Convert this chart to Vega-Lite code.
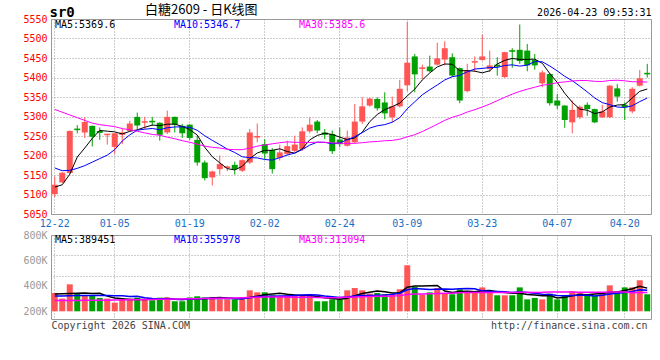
{
"$schema": "https://vega.github.io/schema/vega-lite/v6.json",
"padding": {"left": 0, "top": 3, "right": 0, "bottom": 0},
"background": "#ffffff",
"bounds": "flush",
"spacing": 21,
"datasets": {"k": [
{"d":"12-22","o":5101,"h":5146,"l":5093,"c":5125,"v":344000,"ma5":5119,"ma10":5168,"ma30":5318,"vm5":336000,"vm10":320000,"vm30":284000},
{"d":"12-23","o":5131,"h":5157,"l":5130,"c":5156,"v":300000,"ma5":5125,"ma10":5161,"ma30":5311,"vm5":338000,"vm10":321000,"vm30":284000},
{"d":"12-24","o":5155,"h":5264,"l":5154,"c":5263,"v":412000,"ma5":5152,"ma10":5162,"ma30":5304,"vm5":340000,"vm10":322000,"vm30":285000},
{"d":"12-25","o":5269,"h":5278,"l":5257,"c":5265,"v":339000,"ma5":5196,"ma10":5167,"ma30":5297,"vm5":342000,"vm10":324000,"vm30":285000},
{"d":"12-26","o":5259,"h":5298,"l":5245,"c":5286,"v":326000,"ma5":5219.2,"ma10":5174,"ma30":5290,"vm5":344200,"vm10":325000,"vm30":286000},
{"d":"12-29","o":5276,"h":5277,"l":5223,"c":5248,"v":326000,"ma5":5243.8,"ma10":5183,"ma30":5283,"vm5":340600,"vm10":325000,"vm30":286000},
{"d":"12-30","o":5263,"h":5272,"l":5240,"c":5258,"v":305000,"ma5":5264.2,"ma10":5192,"ma30":5279,"vm5":341600,"vm10":325000,"vm30":287000},
{"d":"12-31","o":5252,"h":5255,"l":5228,"c":5256,"v":300000,"ma5":5262.4,"ma10":5201,"ma30":5276.5,"vm5":319200,"vm10":324000,"vm30":287000},
{"d":"01-05","o":5222,"h":5257,"l":5204,"c":5257,"v":268000,"ma5":5260.6,"ma10":5215,"ma30":5274,"vm5":305000,"vm10":323000,"vm30":288000},
{"d":"01-06","o":5253,"h":5268,"l":5229,"c":5259,"v":294000,"ma5":5255.2,"ma10":5237.2,"ma30":5269,"vm5":298600,"vm10":321400,"vm30":289000},
{"d":"01-07","o":5263,"h":5289,"l":5262,"c":5282,"v":300000,"ma5":5262,"ma10":5252.9,"ma30":5266,"vm5":293400,"vm10":317000,"vm30":290000},
{"d":"01-08","o":5299,"h":5310,"l":5268,"c":5277,"v":307000,"ma5":5265.8,"ma10":5265,"ma30":5262,"vm5":293800,"vm10":317700,"vm30":291000},
{"d":"01-09","o":5284,"h":5299,"l":5268,"c":5288,"v":294000,"ma5":5272.4,"ma10":5267.4,"ma30":5258,"vm5":292600,"vm10":305900,"vm30":292000},
{"d":"01-12","o":5289,"h":5299,"l":5276,"c":5285,"v":287000,"ma5":5278,"ma10":5269.3,"ma30":5254,"vm5":296400,"vm10":300700,"vm30":293000},
{"d":"01-13","o":5284,"h":5285,"l":5238,"c":5253,"v":307000,"ma5":5276.8,"ma10":5266,"ma30":5252,"vm5":299000,"vm10":298800,"vm30":294000},
{"d":"01-14","o":5259,"h":5315,"l":5255,"c":5299,"v":309000,"ma5":5280.2,"ma10":5271.1,"ma30":5247,"vm5":300800,"vm10":297100,"vm30":295000},
{"d":"01-15","o":5299,"h":5300,"l":5259,"c":5279,"v":279000,"ma5":5280.6,"ma10":5273.2,"ma30":5243,"vm5":295200,"vm10":294500,"vm30":296000},
{"d":"01-16","o":5276,"h":5281,"l":5245,"c":5257,"v":279000,"ma5":5274.6,"ma10":5273.5,"ma30":5238,"vm5":292200,"vm10":292400,"vm30":297000},
{"d":"01-19","o":5279,"h":5280,"l":5240,"c":5245,"v":309000,"ma5":5266.6,"ma10":5272.3,"ma30":5234,"vm5":296600,"vm10":296500,"vm30":298000},
{"d":"01-20","o":5240,"h":5251,"l":5174,"c":5182,"v":318000,"ma5":5252.4,"ma10":5264.6,"ma30":5229,"vm5":298800,"vm10":298900,"vm30":299000},
{"d":"01-21","o":5182,"h":5187,"l":5136,"c":5142,"v":309000,"ma5":5221,"ma10":5250.6,"ma30":5224,"vm5":298800,"vm10":299800,"vm30":300000},
{"d":"01-22","o":5144,"h":5161,"l":5123,"c":5159,"v":313000,"ma5":5197,"ma10":5238.8,"ma30":5221,"vm5":305600,"vm10":300400,"vm30":301000},
{"d":"01-23","o":5165,"h":5200,"l":5151,"c":5178,"v":294000,"ma5":5181.2,"ma10":5227.9,"ma30":5219,"vm5":308600,"vm10":300400,"vm30":302000},
{"d":"01-26","o":5168,"h":5174,"l":5160,"c":5172,"v":294000,"ma5":5166.4,"ma10":5216.5,"ma30":5216,"vm5":305600,"vm10":301100,"vm30":303000},
{"d":"01-27","o":5176,"h":5184,"l":5151,"c":5165,"v":294000,"ma5":5163,"ma10":5207.7,"ma30":5215,"vm5":300800,"vm10":299800,"vm30":305000},
{"d":"01-28","o":5161,"h":5190,"l":5158,"c":5188,"v":294000,"ma5":5172.2,"ma10":5196.6,"ma30":5215,"vm5":297800,"vm10":298300,"vm30":306000},
{"d":"01-29","o":5182,"h":5268,"l":5178,"c":5259,"v":365000,"ma5":5192.2,"ma10":5194.6,"ma30":5219,"vm5":308200,"vm10":306900,"vm30":308000},
{"d":"01-30","o":5246,"h":5282,"l":5234,"c":5250,"v":349000,"ma5":5206.4,"ma10":5193.8,"ma30":5224,"vm5":319200,"vm10":313900,"vm30":310000},
{"d":"02-02","o":5229,"h":5242,"l":5191,"c":5205,"v":349000,"ma5":5213.2,"ma10":5189.8,"ma30":5227,"vm5":330200,"vm10":317900,"vm30":312000},
{"d":"02-03","o":5214,"h":5219,"l":5154,"c":5165,"v":326000,"ma5":5213.2,"ma10":5188.1,"ma30":5230,"vm5":336600,"vm10":318700,"vm30":313000},
{"d":"02-04","o":5194,"h":5228,"l":5187,"c":5208,"v":318000,"ma5":5217.2,"ma10":5194.7,"ma30":5232.7,"vm5":341400,"vm10":319600,"vm30":312100},
{"d":"02-05","o":5204,"h":5238,"l":5200,"c":5224,"v":326000,"ma5":5210.2,"ma10":5201.2,"ma30":5235,"vm5":333600,"vm10":320900,"vm30":313000},
{"d":"02-06","o":5212,"h":5251,"l":5208,"c":5228,"v":326000,"ma5":5206,"ma10":5206.2,"ma30":5233.8,"vm5":329000,"vm10":324100,"vm30":310100},
{"d":"02-09","o":5217,"h":5272,"l":5212,"c":5262,"v":326000,"ma5":5217.4,"ma10":5215.3,"ma30":5233.7,"vm5":324400,"vm10":327300,"vm30":309700},
{"d":"02-10","o":5262,"h":5298,"l":5257,"c":5279,"v":326000,"ma5":5240.2,"ma10":5226.7,"ma30":5233.5,"vm5":324400,"vm10":330500,"vm30":309700},
{"d":"02-11","o":5287,"h":5291,"l":5257,"c":5264,"v":279000,"ma5":5251.4,"ma10":5234.3,"ma30":5234,"vm5":316600,"vm10":329000,"vm30":308100},
{"d":"02-12","o":5259,"h":5268,"l":5242,"c":5253,"v":279000,"ma5":5257.2,"ma10":5233.7,"ma30":5233.8,"vm5":307200,"vm10":320400,"vm30":307300},
{"d":"02-13","o":5255,"h":5264,"l":5204,"c":5211,"v":294000,"ma5":5253.8,"ma10":5229.9,"ma30":5232.4,"vm5":300800,"vm10":314900,"vm30":307100},
{"d":"02-24","o":5241,"h":5272,"l":5221,"c":5229,"v":294000,"ma5":5247.2,"ma10":5232.3,"ma30":5231.5,"vm5":294400,"vm10":309400,"vm30":307900},
{"d":"02-25","o":5225,"h":5264,"l":5223,"c":5246,"v":365000,"ma5":5240.6,"ma10":5240.4,"ma30":5231,"vm5":302200,"vm10":313300,"vm30":310300},
{"d":"02-26","o":5234,"h":5332,"l":5231,"c":5287,"v":383000,"ma5":5245.2,"ma10":5248.3,"ma30":5231.2,"vm5":323000,"vm10":319800,"vm30":313100},
{"d":"02-27","o":5287,"h":5349,"l":5281,"c":5326,"v":365000,"ma5":5259.8,"ma10":5258.5,"ma30":5232.8,"vm5":340200,"vm10":323700,"vm30":315000},
{"d":"03-02","o":5328,"h":5348,"l":5325,"c":5346,"v":339000,"ma5":5286.8,"ma10":5270.3,"ma30":5234.8,"vm5":349200,"vm10":325000,"vm30":316500},
{"d":"03-03","o":5345,"h":5349,"l":5315,"c":5321,"v":344000,"ma5":5305.2,"ma10":5276.2,"ma30":5236,"vm5":359200,"vm10":326800,"vm30":318400},
{"d":"03-04","o":5336,"h":5362,"l":5293,"c":5308,"v":334000,"ma5":5317.6,"ma10":5279.1,"ma30":5237.8,"vm5":353000,"vm10":327600,"vm30":319300},
{"d":"03-05","o":5298,"h":5351,"l":5285,"c":5326,"v":334000,"ma5":5325.4,"ma10":5285.3,"ma30":5238.7,"vm5":343200,"vm10":333100,"vm30":320100},
{"d":"03-06","o":5326,"h":5394,"l":5323,"c":5371,"v":373000,"ma5":5334.4,"ma10":5297.1,"ma30":5241.8,"vm5":344800,"vm10":342500,"vm30":323300},
{"d":"03-09","o":5380,"h":5543,"l":5365,"c":5438,"v":562000,"ma5":5352.8,"ma10":5319.8,"ma30":5247.8,"vm5":389400,"vm10":369300,"vm30":332700},
{"d":"03-10","o":5454,"h":5460,"l":5362,"c":5408,"v":391000,"ma5":5370.2,"ma10":5337.7,"ma30":5253.3,"vm5":398800,"vm10":379000,"vm30":335400},
{"d":"03-11","o":5422,"h":5433,"l":5396,"c":5426,"v":331000,"ma5":5393.6,"ma10":5355.6,"ma30":5261.4,"vm5":398200,"vm10":375600,"vm30":335900},
{"d":"03-12","o":5428,"h":5456,"l":5414,"c":5416,"v":349000,"ma5":5411.6,"ma10":5368.5,"ma30":5270.5,"vm5":401200,"vm10":372200,"vm30":337200},
{"d":"03-13","o":5433,"h":5489,"l":5431,"c":5449,"v":383000,"ma5":5427.2,"ma10":5380.8,"ma30":5280.2,"vm5":403200,"vm10":374000,"vm30":339500},
{"d":"03-16","o":5446,"h":5493,"l":5431,"c":5475,"v":344000,"ma5":5434.6,"ma10":5393.7,"ma30":5290.1,"vm5":359600,"vm10":374500,"vm30":341200},
{"d":"03-17","o":5452,"h":5462,"l":5401,"c":5405,"v":334000,"ma5":5434,"ma10":5402.1,"ma30":5297.9,"vm5":348200,"vm10":373500,"vm30":342500},
{"d":"03-18","o":5424,"h":5426,"l":5334,"c":5341,"v":373000,"ma5":5417.2,"ma10":5405.4,"ma30":5303.7,"vm5":356600,"vm10":377400,"vm30":345200},
{"d":"03-19","o":5365,"h":5435,"l":5362,"c":5418,"v":357000,"ma5":5417.6,"ma10":5414.6,"ma30":5311.4,"vm5":358200,"vm10":379700,"vm30":347300},
{"d":"03-20","o":5438,"h":5454,"l":5414,"c":5442,"v":357000,"ma5":5416.2,"ma10":5421.7,"ma30":5317.5,"vm5":353000,"vm10":378100,"vm30":347000},
{"d":"03-23","o":5445,"h":5510,"l":5443,"c":5454,"v":388000,"ma5":5412,"ma10":5423.3,"ma30":5324.3,"vm5":361800,"vm10":360700,"vm30":348300},
{"d":"03-24","o":5422,"h":5469,"l":5414,"c":5431,"v":344000,"ma5":5417.2,"ma10":5425.6,"ma30":5331.9,"vm5":363800,"vm10":356000,"vm30":348100},
{"d":"03-25","o":5433,"h":5452,"l":5405,"c":5428,"v":326000,"ma5":5434.6,"ma10":5425.9,"ma30":5340.6,"vm5":354400,"vm10":355500,"vm30":348100},
{"d":"03-26","o":5401,"h":5466,"l":5399,"c":5465,"v":326000,"ma5":5444,"ma10":5430.8,"ma30":5349.2,"vm5":348200,"vm10":353200,"vm30":348400},
{"d":"03-27","o":5470,"h":5475,"l":5425,"c":5466,"v":326000,"ma5":5448.8,"ma10":5432.5,"ma30":5357.3,"vm5":342000,"vm10":347500,"vm30":348400},
{"d":"03-30","o":5471,"h":5536,"l":5435,"c":5442,"v":388000,"ma5":5446.4,"ma10":5429.2,"ma30":5364.4,"vm5":342000,"vm10":351900,"vm30":350500},
{"d":"03-31","o":5469,"h":5486,"l":5416,"c":5431,"v":294000,"ma5":5446.4,"ma10":5431.8,"ma30":5370,"vm5":332000,"vm10":347900,"vm30":349400},
{"d":"04-01","o":5445,"h":5460,"l":5420,"c":5431,"v":305000,"ma5":5447,"ma10":5440.8,"ma30":5375.1,"vm5":327800,"vm10":341100,"vm30":348700},
{"d":"04-02","o":5385,"h":5418,"l":5375,"c":5413,"v":294000,"ma5":5436.6,"ma10":5440.3,"ma30":5380.1,"vm5":321400,"vm10":334800,"vm30":349200},
{"d":"04-03","o":5409,"h":5412,"l":5328,"c":5334,"v":339000,"ma5":5410.2,"ma10":5429.5,"ma30":5382.8,"vm5":324000,"vm10":333000,"vm30":351200},
{"d":"04-07","o":5341,"h":5358,"l":5319,"c":5328,"v":294000,"ma5":5387.4,"ma10":5416.9,"ma30":5386.7,"vm5":305200,"vm10":323600,"vm30":351200},
{"d":"04-08","o":5328,"h":5329,"l":5271,"c":5291,"v":323000,"ma5":5359.4,"ma10":5402.9,"ma30":5388.7,"vm5":311000,"vm10":321500,"vm30":352200},
{"d":"04-09","o":5285,"h":5341,"l":5257,"c":5317,"v":357000,"ma5":5336.6,"ma10":5391.8,"ma30":5391.1,"vm5":321400,"vm10":324600,"vm30":351900},
{"d":"04-10","o":5298,"h":5328,"l":5294,"c":5325,"v":349000,"ma5":5319,"ma10":5377.8,"ma30":5392.4,"vm5":332400,"vm10":326900,"vm30":350800},
{"d":"04-13","o":5330,"h":5336,"l":5302,"c":5319,"v":326000,"ma5":5316,"ma10":5363.1,"ma30":5392.1,"vm5":329800,"vm10":326900,"vm30":349500},
{"d":"04-14","o":5319,"h":5320,"l":5283,"c":5285,"v":323000,"ma5":5307.4,"ma10":5347.4,"ma30":5390.1,"vm5":335600,"vm10":320400,"vm30":348900},
{"d":"04-15","o":5298,"h":5330,"l":5296,"c":5313,"v":349000,"ma5":5311.8,"ma10":5335.6,"ma30":5389.8,"vm5":340800,"vm10":325900,"vm30":349100},
{"d":"04-16","o":5298,"h":5381,"l":5296,"c":5379,"v":404000,"ma5":5324.2,"ma10":5330.4,"ma30":5392.2,"vm5":350200,"vm10":335800,"vm30":351400},
{"d":"04-17","o":5372,"h":5383,"l":5338,"c":5351,"v":357000,"ma5":5329.4,"ma10":5324.2,"ma30":5393,"vm5":351800,"vm10":342100,"vm30":352200},
{"d":"04-20","o":5330,"h":5336,"l":5291,"c":5324,"v":388000,"ma5":5330.4,"ma10":5323.2,"ma30":5391.5,"vm5":364200,"vm10":347000,"vm30":352700},
{"d":"04-21","o":5313,"h":5375,"l":5308,"c":5371,"v":388000,"ma5":5347.6,"ma10":5327.5,"ma30":5389.2,"vm5":377200,"vm10":356400,"vm30":346900},
{"d":"04-22","o":5379,"h":5419,"l":5377,"c":5398,"v":444000,"ma5":5364.6,"ma10":5338.2,"ma30":5388.9,"vm5":396200,"vm10":368500,"vm30":348700},
{"d":"04-23","o":5412,"h":5435,"l":5400,"c":5408,"v":334000,"ma5":5370.4,"ma10":5347.3,"ma30":5388.3,"vm5":382200,"vm10":366200,"vm30":348800}
]},
"data": {"name": "k"},
"resolve": {"scale": {"color": "independent"}, "legend": {"color": "independent"}},
"config": {
  "view": {"stroke": "#999999", "strokeWidth": 1},
  "axis": {"labelFont": "DejaVu Sans Mono", "labelFontSize": 10, "ticks": false, "domain": false, "gridColor": "#9a9a9a", "gridDash": [1, 2], "gridWidth": 1, "gridOpacity": 1, "labelOverlap": false, "labelFlush": false, "labelBound": false},
  "legend": {"labelFont": "DejaVu Sans Mono", "labelFontSize": 10}
},
"vconcat": [
  {
    "width": 600,
    "height": 195,
    "title": {"text": "白糖2609 - 日K线图", "anchor": "start", "frame": "group", "dx": 94, "offset": -12, "fontSize": 13, "fontWeight": "normal", "color": "#000000", "font": "Noto Sans CJK SC"},
    "resolve": {"axis": {"x": "independent", "y": "independent"}},
    "layer": [
      {
        "mark": {"type": "rule", "strokeWidth": 1},
        "encoding": {
          "x": {"field": "d", "type": "ordinal", "sort": null, "scale": {"paddingInner": 0.2, "paddingOuter": 0.1},
                "axis": {"orient": "bottom", "values": ["12-22","01-05","01-19","02-02","02-24","03-09","03-23","04-07","04-20"], "grid": true, "labelColor": "#1a6fc4", "labelPadding": 4, "labelAngle": 0, "title": null, "minExtent": 21}},
          "y": {"field": "l", "type": "quantitative", "scale": {"domain": [5050, 5550], "nice": false, "zero": false},
                "axis": {"orient": "left", "values": [5050,5100,5150,5200,5250,5300,5350,5400,5450,5500,5550], "format": "d", "grid": true, "labelColor": "#ff0000", "labelPadding": 4, "minExtent": 50,
                         "title": "sr0", "titleAngle": 0, "titleX": -2, "titleY": -3, "titleAlign": "left", "titleBaseline": "alphabetic", "titleFont": "DejaVu Sans Mono", "titleFontSize": 14, "titleFontWeight": "bold", "titleColor": "#000000"}},
          "y2": {"field": "h"},
          "color": {"condition": {"test": "datum.c >= datum.o", "value": "#ff5555"}, "value": "#00a000"}
        }
      },
      {
        "mark": {"type": "bar"},
        "encoding": {
          "x": {"field": "d", "type": "ordinal", "sort": null, "axis": null},
          "y": {"field": "o", "type": "quantitative", "axis": null},
          "y2": {"field": "c"},
          "color": {"condition": {"test": "datum.c >= datum.o", "value": "#ff5555"}, "value": "#00a000"}
        }
      },
      {
        "transform": [{"fold": ["ma5", "ma10", "ma30"], "as": ["key", "value"]}],
        "mark": {"type": "line"},
        "encoding": {
          "x": {"field": "d", "type": "ordinal", "sort": null,
                "axis": {"orient": "top", "labels": false, "grid": false, "title": "2026-04-23 09:53:31", "titleAnchor": "end", "titlePadding": 2, "titleFont": "DejaVu Sans Mono", "titleFontSize": 10, "titleFontWeight": "normal", "titleColor": "#000000"}},
          "y": {"field": "value", "type": "quantitative", "axis": null},
          "strokeWidth": {"field": "key", "type": "nominal", "scale": {"domain": ["ma5", "ma10", "ma30"], "range": [1, 1, 1.6]}, "legend": null},
          "color": {"field": "key", "type": "nominal", "scale": {"domain": ["ma5", "ma10", "ma30"], "range": ["#000000", "#0000ff", "#ff00ff"]},
                    "legend": {"orient": "none", "legendX": -6, "legendY": 1, "direction": "horizontal", "columns": 3, "title": null, "padding": 0,
                               "symbolType": "circle", "symbolSize": 0, "symbolStrokeWidth": 0, "symbolOpacity": 0, "labelOffset": 0, "columnPadding": 48, "labelLimit": 300,
                               "labelExpr": "datum.value == 'ma5' ? 'MA5:5369.6' : datum.value == 'ma10' ? 'MA10:5346.7' : 'MA30:5385.6'",
                               "labelColor": {"expr": "datum.value == 'ma5' ? '#000000' : datum.value == 'ma10' ? '#0000ff' : '#ff00ff'"}}}
        }
      }
    ]
  },
  {
    "width": 600,
    "height": 84,
    "resolve": {"axis": {"x": "independent", "y": "independent"}},
    "layer": [
      {
        "mark": {"type": "bar"},
        "encoding": {
          "x": {"field": "d", "type": "ordinal", "sort": null, "scale": {"paddingInner": 0.2, "paddingOuter": 0.1},
                "axis": {"orient": "bottom", "values": ["12-22","01-05","01-19","02-02","02-24","03-09","03-23","04-07","04-20"], "grid": true, "labels": false,
                         "title": "Copyright 2026 SINA.COM\u00a0\u00a0\u00a0\u00a0\u00a0\u00a0\u00a0\u00a0\u00a0\u00a0\u00a0\u00a0\u00a0\u00a0\u00a0\u00a0\u00a0\u00a0\u00a0\u00a0\u00a0\u00a0\u00a0\u00a0\u00a0\u00a0\u00a0\u00a0\u00a0\u00a0\u00a0\u00a0\u00a0\u00a0\u00a0\u00a0\u00a0\u00a0\u00a0\u00a0\u00a0\u00a0\u00a0\u00a0\u00a0\u00a0\u00a0\u00a0\u00a0\u00a0http://finance.sina.com.cn",
                         "titleAnchor": "start", "titleFont": "DejaVu Sans Mono", "titleFontSize": 10, "titleFontWeight": "normal", "titleColor": "#444444", "titlePadding": 1}},
          "y": {"field": "v", "type": "quantitative", "scale": {"domain": [139500, 800000], "nice": false, "zero": false},
                "axis": {"orient": "left", "values": [200000, 400000, 600000, 800000], "labelExpr": "(datum.value / 1000) + 'K'", "grid": false, "labelColor": "#999999", "labelPadding": 4, "minExtent": 50, "title": null}},
          "y2": {"datum": 200000},
          "color": {"condition": {"test": "datum.c >= datum.o", "value": "#ff5555"}, "value": "#00a000"}
        }
      },
      {
        "transform": [{"fold": ["vm5", "vm10", "vm30"], "as": ["key", "value"]}],
        "mark": {"type": "line", "strokeWidth": 1.5},
        "encoding": {
          "x": {"field": "d", "type": "ordinal", "sort": null, "axis": null},
          "y": {"field": "value", "type": "quantitative", "axis": {"orient": "right", "values": [480000, 640000], "grid": true, "labels": false, "title": null}},
          "color": {"field": "key", "type": "nominal", "scale": {"domain": ["vm5", "vm10", "vm30"], "range": ["#000000", "#0000ff", "#ff00ff"]},
                    "legend": {"orient": "none", "legendX": -6, "legendY": 0, "direction": "horizontal", "columns": 3, "title": null, "padding": 0,
                               "symbolType": "circle", "symbolSize": 0, "symbolStrokeWidth": 0, "symbolOpacity": 0, "labelOffset": 0, "columnPadding": 48, "labelLimit": 300,
                               "labelExpr": "datum.value == 'vm5' ? 'MA5:389451' : datum.value == 'vm10' ? 'MA10:355978' : 'MA30:313094'",
                               "labelColor": {"expr": "datum.value == 'vm5' ? '#000000' : datum.value == 'vm10' ? '#0000ff' : '#ff00ff'"}}}
        }
      }
    ]
  }
]
}
